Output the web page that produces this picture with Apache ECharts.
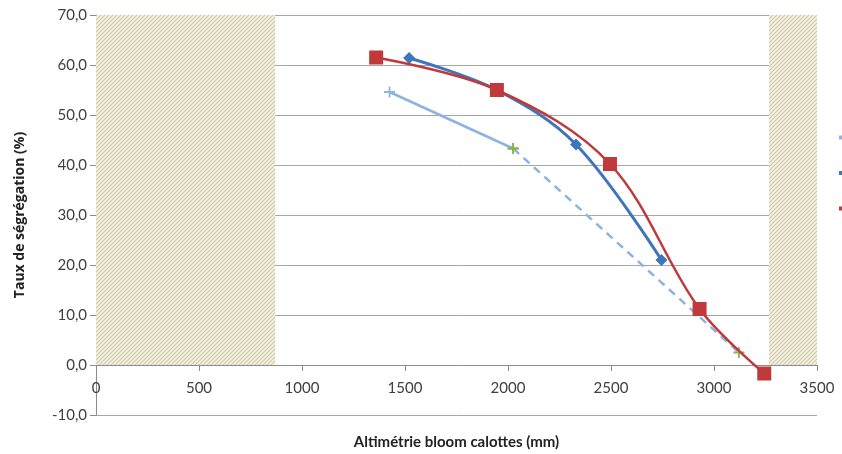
<!DOCTYPE html>
<html>
<head>
<meta charset="utf-8">
<script src="https://cdn.jsdelivr.net/npm/echarts@6/dist/echarts.min.js"></script>
<style>html,body{margin:0;padding:0;background:#fff;}#c{width:842px;height:454px;}</style>
</head>
<body>
<div id="c"></div>
<script>
// ---- data ----
const xTicks = [0, 3500, 500];           // min, max, interval
const yTicks = [-10, 70, 10];
const lightX = [1425, 2025];
const lightY = [54.6, 43.3];
const dashX = [2025, 3121];
const dashY = [43.3, 2.5];
const blueX = [1520, 1945, 2330, 2745];
const blueY = [61.4, 55.0, 44.1, 21.0];
const redX = [1360, 1946, 2495, 2930, 3244];
const redY = [61.5, 55.0, 40.2, 11.2, -1.7];
const zoneLeft = [0, 870];
const zoneRight = [3267, 3500];
const zoneY = [0, 70];
const seriesNames = ['Série 1', 'Série 2', 'Série 3'];

const zip = (a, b) => a.map((v, i) => [v, b[i]]);

// hatch pattern
const pc = document.createElement('canvas');
pc.width = 4; pc.height = 4;
const g = pc.getContext('2d');
g.fillStyle = '#F5F3E8';
g.fillRect(0, 0, 4, 4);
g.strokeStyle = '#D0C9A6';
g.lineWidth = 1.2;
g.beginPath();
g.moveTo(0, 4); g.lineTo(4, 0);
g.moveTo(-1, 1); g.lineTo(1, -1);
g.moveTo(3, 5); g.lineTo(5, 3);
g.stroke();

const plus = 'path://M4.2,0H5.8V10H4.2ZM0,4.2H10V5.8H0Z';
const font = 'Lato';
const cLight = '#8DB3E2', cBlue = '#3E75BB', cRed = '#C0393B', cGreen = '#8DB24A';

// grid spans 400px for 80 units; x axis sits at y = 0
const gridH = 400;
const xAxisOffset = -gridH * (0 - yTicks[0]) / (yTicks[1] - yTicks[0]);

const chart = echarts.init(document.getElementById('c'));
chart.setOption({
  animation: false,
  textStyle: { fontFamily: font },
  grid: { left: 96, right: 25, top: 15, height: gridH, outerBoundsMode: 'none', containLabel: false },
  legend: {
    orient: 'vertical', left: 834, top: 126, itemGap: 22.5,
    itemWidth: 25, itemHeight: 4, icon: 'rect',
    textStyle: { fontSize: 13, color: '#404040' },
    data: [
      { name: seriesNames[0], itemStyle: { color: cLight } },
      { name: seriesNames[1], itemStyle: { color: cBlue } },
      { name: seriesNames[2], itemStyle: { color: cRed } }
    ]
  },
  xAxis: {
    type: 'value', min: xTicks[0], max: xTicks[1], interval: xTicks[2],
    position: 'bottom', offset: xAxisOffset,
    axisLine: { onZero: false, lineStyle: { color: '#8C8C8C', width: 1 } },
    axisTick: { show: true, length: 6, lineStyle: { color: '#8C8C8C' } },
    axisLabel: { color: '#404040', fontSize: 15, margin: 16, fontFamily: font,
      formatter: v => String(v) },
    splitLine: { show: false },
    name: 'Altimétrie bloom calottes (mm)', nameLocation: 'middle', nameGap: 70,
    nameTextStyle: { fontWeight: 'bold', fontSize: 15, color: '#222', fontFamily: font }
  },
  yAxis: {
    type: 'value', min: yTicks[0], max: yTicks[1], interval: yTicks[2],
    axisLine: { show: true, onZero: false, lineStyle: { color: '#8C8C8C', width: 1 } },
    axisTick: { show: true, length: 6, lineStyle: { color: '#8C8C8C' } },
    axisLabel: { color: '#404040', fontSize: 15, margin: 9, fontFamily: font,
      formatter: v => v.toFixed(1).replace('.', ',') },
    splitLine: { show: true, lineStyle: { color: '#A6A6A6', width: 1 } },
    name: 'Taux de ségrégation (%)', nameLocation: 'middle', nameGap: 69,
    nameTextStyle: { fontWeight: 'bold', fontSize: 14, color: '#222', fontFamily: 'Open Sans' }
  },
  series: [
    {
      name: 'zones', type: 'line', data: [], silent: true,
      markArea: {
        silent: true,
        itemStyle: { color: { image: pc, repeat: 'repeat' } },
        data: [
          [{ xAxis: zoneLeft[0], yAxis: zoneY[1] }, { xAxis: zoneLeft[1], yAxis: zoneY[0] }],
          [{ xAxis: zoneRight[0], yAxis: zoneY[1] }, { xAxis: zoneRight[1], yAxis: zoneY[0] }]
        ]
      }
    },
    {
      name: seriesNames[0], type: 'line', data: zip(dashX, dashY),
      lineStyle: { color: cLight, width: 2.5, type: [8, 6] },
      symbol: plus, symbolSize: 11, itemStyle: { color: cGreen }, z: 3
    },
    {
      name: seriesNames[0], type: 'line', data: zip(lightX, lightY),
      lineStyle: { color: cLight, width: 2.5 },
      symbol: plus, symbolSize: 11,
      itemStyle: { color: p => p.dataIndex === 0 ? cLight : cGreen }, z: 3
    },
    {
      name: seriesNames[1], type: 'line', data: zip(blueX, blueY), smooth: 0.35,
      lineStyle: { color: cBlue, width: 3 },
      symbol: 'diamond', symbolSize: 12, itemStyle: { color: cBlue }, z: 4
    },
    {
      name: seriesNames[2], type: 'line', data: zip(redX, redY), smooth: 0.35,
      lineStyle: { color: cRed, width: 2.5 },
      symbol: 'rect', symbolSize: 14, itemStyle: { color: cRed }, z: 5
    }
  ]
});
</script>
</body>
</html>
